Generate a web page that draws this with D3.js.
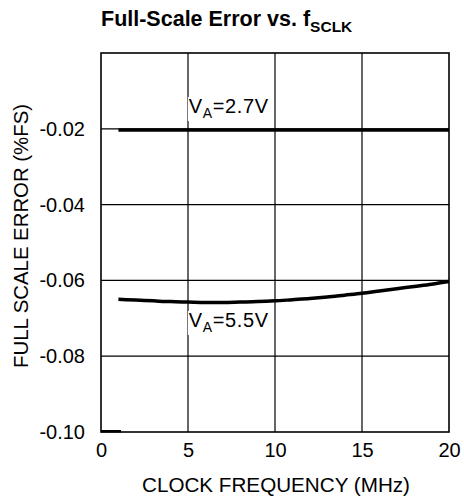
<!DOCTYPE html>
<html>
<head>
<meta charset="utf-8">
<script src="https://cdn.jsdelivr.net/npm/d3@7"></script>
<style>
  html, body { margin: 0; padding: 0; background: #fff; }
  svg { display: block; font-family: "Liberation Sans", Arial, sans-serif; }
</style>
</head>
<body>
<svg id="chart" width="464" height="500"></svg>
<script>
// ---- data ----
const freqMHz = [1, 2, 3, 4, 5, 6, 7, 8, 9, 10, 11, 12, 13, 14, 15, 16, 17, 18, 19, 20];
const errVA27 = [-0.0203, -0.0203, -0.0203, -0.0203, -0.0203, -0.0203, -0.0203, -0.0203, -0.0203, -0.0203,
                 -0.0203, -0.0203, -0.0203, -0.0203, -0.0203, -0.0203, -0.0203, -0.0203, -0.0203, -0.0203];
const errVA55 = [-0.0650, -0.0652, -0.0654, -0.0656, -0.0657, -0.0658, -0.0658, -0.0657, -0.0656, -0.0654,
                 -0.0651, -0.0648, -0.0644, -0.0639, -0.0634, -0.0628, -0.0622, -0.0616, -0.0610, -0.0603];
const stubFreq = [0, 1.15];
const stubErr = [-0.0998, -0.0998];
const xTicks = [0, 5, 10, 15, 20];
const yTicks = [-0.10, -0.08, -0.06, -0.04, -0.02];
const yGrid = [-0.08, -0.06, -0.04, -0.02];
const xGrid = [5, 10, 15];

const svg = d3.select("#chart");
const W = 464, H = 500;
const m = { left: 101, right: 15, top: 53, bottom: 68 };

const x = d3.scaleLinear().domain([0, 20]).range([m.left, W - m.right]);
const y = d3.scaleLinear().domain([-0.10, 0]).range([H - m.bottom, m.top]);

// grid
svg.append("g").selectAll("line").data(xGrid).join("line")
  .attr("x1", d => x(d)).attr("x2", d => x(d))
  .attr("y1", y(-0.10)).attr("y2", y(0))
  .attr("stroke", "#000").attr("stroke-width", 1.2);
svg.append("g").selectAll("line").data(yGrid).join("line")
  .attr("y1", d => y(d)).attr("y2", d => y(d))
  .attr("x1", x(0)).attr("x2", x(20))
  .attr("stroke", "#000").attr("stroke-width", 1.2);

// frame
svg.append("rect")
  .attr("x", x(0)).attr("y", y(0))
  .attr("width", x(20) - x(0)).attr("height", y(-0.10) - y(0))
  .attr("fill", "none").attr("stroke", "#000").attr("stroke-width", 1.6);

// axes (labels only)
const xAxis = d3.axisBottom(x).tickValues(xTicks).tickFormat(d3.format("d")).tickSize(0).tickPadding(11);
const gx = svg.append("g").attr("transform", `translate(0,${y(-0.10)})`).call(xAxis);
gx.select(".domain").remove();
gx.selectAll("text").attr("font-size", 20).attr("fill", "#000")
  .attr("font-family", "Liberation Sans, Arial, sans-serif");

const yAxis = d3.axisLeft(y).tickValues(yTicks).tickFormat(d3.format(".2f")).tickSize(0).tickPadding(16);
const gy = svg.append("g").attr("transform", `translate(${x(0)},0)`).call(yAxis);
gy.select(".domain").remove();
gy.selectAll("text").attr("font-size", 20).attr("fill", "#000")
  .attr("font-family", "Liberation Sans, Arial, sans-serif")
  .text(d => d3.format(".2f")(d).replace("−", "-"));

// lines
const line = d3.line().x(d => x(d[0])).y(d => y(d[1])).curve(d3.curveMonotoneX);
svg.append("path").datum(freqMHz.map((f, i) => [f, errVA27[i]]))
  .attr("d", line).attr("fill", "none").attr("stroke", "#000").attr("stroke-width", 3.5);
svg.append("path").datum(freqMHz.map((f, i) => [f, errVA55[i]]))
  .attr("d", line).attr("fill", "none").attr("stroke", "#000").attr("stroke-width", 3.5);
svg.append("path").datum(stubFreq.map((f, i) => [f, stubErr[i]]))
  .attr("d", line).attr("fill", "none").attr("stroke", "#000").attr("stroke-width", 2.5);

// curve labels with white background
function vLabel(xv, yBase, rest) {
  const g = svg.append("g");
  const bg = g.append("rect").attr("fill", "#fff");
  const t = g.append("text").attr("x", x(xv)).attr("y", yBase)
    .attr("font-size", 20).attr("letter-spacing", 0.6).attr("fill", "#000");
  t.append("tspan").text("V");
  t.append("tspan").attr("font-size", 14).attr("dy", 5).text("A");
  t.append("tspan").attr("dy", -5).text(rest);
  const b = t.node().getBBox();
  bg.attr("x", b.x - 1).attr("y", b.y + 2).attr("width", b.width + 3).attr("height", b.height - 2);
}
vLabel(5.05, 113, "=2.7V");
vLabel(5.05, 327, "=5.5V");

// title
const title = svg.append("text").attr("x", 101).attr("y", 26)
  .attr("font-size", 21.5).attr("font-weight", "bold").attr("fill", "#000");
title.append("tspan").text("Full-Scale Error vs. f");
title.append("tspan").attr("font-size", 15.5).attr("dy", 6).text("SCLK");

// axis titles
svg.append("text").attr("x", 276).attr("y", 492)
  .attr("text-anchor", "middle").attr("font-size", 19.5).attr("fill", "#000")
  .attr("textLength", 268).attr("lengthAdjust", "spacingAndGlyphs")
  .text("CLOCK FREQUENCY (MHz)");
svg.append("text")
  .attr("transform", `translate(28,236) rotate(-90)`)
  .attr("text-anchor", "middle").attr("font-size", 19.5).attr("fill", "#000")
  .attr("textLength", 264).attr("lengthAdjust", "spacingAndGlyphs")
  .text("FULL SCALE ERROR (%FS)");
</script>
</body>
</html>
